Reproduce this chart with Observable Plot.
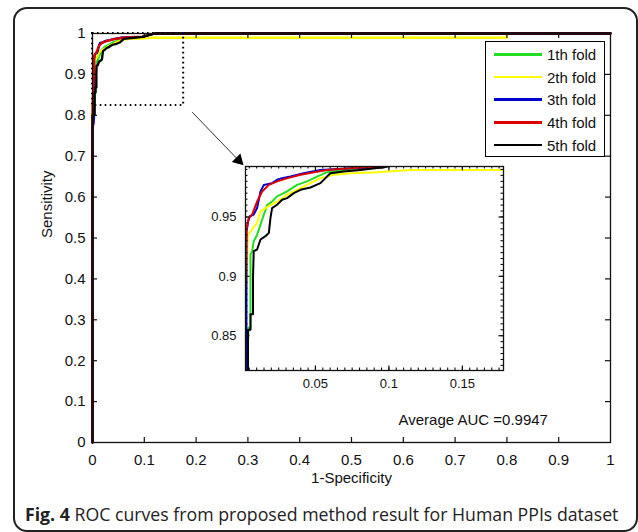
<!DOCTYPE html>
<html>
<head>
<meta charset="utf-8">
<script src="https://cdn.jsdelivr.net/npm/d3@7"></script>
<script src="https://cdn.jsdelivr.net/npm/@observablehq/plot@0.6"></script>
<style>
  html, body { margin: 0; padding: 0; background: white; }
  #wrap { position: relative; width: 638px; height: 532px; overflow: hidden; background: white; font-family: "Liberation Sans", Arial, sans-serif; }
  #frame { position: absolute; left: 13px; top: 7px; width: 625px; height: 525px; box-sizing: border-box; border: 2px solid #222; border-radius: 14px; }
  #main, #inset { position: absolute; left: 0; top: 0; }
  #legend { position: absolute; left: 485px; top: 41px; width: 120px; height: 116px; box-sizing: border-box; border: 1px solid #000; background: white; padding: 1px 0; }
  .row { height: 22.7px; display: flex; align-items: center; font-size: 15px; color: #111; }
  .sw { display: inline-block; width: 48px; height: 2.5px; margin-left: 8px; margin-right: 5px; }
  #caption { position: absolute; left: 25px; top: 503px; white-space: nowrap; font-family: "Open Sans", "Noto Sans", sans-serif; font-size: 16px; color: #222; line-height: 22px; }
  #caption b { font-weight: 700; }
</style>
</head>
<body>
<div id="wrap">
  <div id="frame"></div>
  <div id="main"></div>
  <div id="inset"></div>
  <div id="legend"></div>
  <div id="caption"></div>
</div>
<script>
// ---- data ----
const folds = ["1th fold", "2th fold", "3th fold", "4th fold", "5th fold"];
const foldColors = ["#22dd22", "#ffff00", "#0000cc", "#dd0000", "#000000"];

const fold1X = [0, 0, 0.003, 0.0045, 0.0058, 0.0058, 0.0069, 0.008, 0.0103, 0.0126, 0.0149, 0.0171, 0.0205, 0.0239, 0.0307, 0.0375, 0.0443, 0.0511, 0.0579, 0.0693, 0.0806, 0.0965, 0.12, 1];
const fold1Y = [0, 0.79, 0.81, 0.857, 0.857, 0.9185, 0.921, 0.9296, 0.935, 0.9436, 0.952, 0.960, 0.963, 0.9673, 0.9715, 0.977, 0.980, 0.984, 0.9877, 0.9896, 0.991, 0.9919, 1, 1];

const fold2X = [0, 0, 0.0024, 0.0031, 0.004, 0.0069, 0.0103, 0.0126, 0.016, 0.0194, 0.0239, 0.0307, 0.0398, 0.0466, 0.0534, 0.0625, 0.0738, 0.092, 0.1146, 0.8, 0.8, 1];
const fold2Y = [0, 0.8, 0.89, 0.893, 0.935, 0.9394, 0.945, 0.9547, 0.9575, 0.960, 0.963, 0.9687, 0.9743, 0.9785, 0.9827, 0.9855, 0.9869, 0.9877, 0.9896, 0.9896, 1, 1];

const fold3X = [0, 0, 0.002, 0.003, 0.0031, 0.0042, 0.0053, 0.008, 0.0103, 0.0126, 0.0149, 0.0205, 0.0239, 0.0273, 0.033, 0.042, 0.0534, 0.0738, 0.0965, 0.12, 1];
const fold3Y = [0, 0.77, 0.78, 0.8, 0.938, 0.9464, 0.9506, 0.952, 0.9575, 0.9715, 0.977, 0.9785, 0.9813, 0.9827, 0.984, 0.9868, 0.9896, 0.991, 0.9919, 1, 1];

const fold4X = [0, 0, 0.0024, 0.003, 0.0046, 0.0069, 0.0103, 0.0137, 0.0183, 0.024, 0.031, 0.040, 0.049, 0.058, 0.081, 0.096, 0.12, 1];
const fold4Y = [0, 0.8, 0.9, 0.938, 0.9492, 0.952, 0.963, 0.9715, 0.977, 0.980, 0.9827, 0.9855, 0.9877, 0.9896, 0.9916, 0.9919, 1, 1];

const fold5X = [0, 0, 0.0041, 0.0041, 0.0058, 0.0058, 0.0075, 0.0075, 0.008, 0.0103, 0.0126, 0.016, 0.0183, 0.0194, 0.0205, 0.0239, 0.0273, 0.0307, 0.0353, 0.0398, 0.0466, 0.0534, 0.0568, 0.0602, 0.0693, 0.0806, 0.0965, 0.12, 1];
const fold5Y = [0, 0.8, 0.8, 0.855, 0.855, 0.868, 0.868, 0.899, 0.9212, 0.9226, 0.931, 0.9338, 0.9366, 0.9492, 0.9575, 0.9603, 0.9645, 0.9659, 0.9701, 0.9729, 0.9748, 0.9785, 0.9827, 0.9868, 0.9882, 0.9896, 0.9919, 1, 1];

const xTicks = [0, 0.1, 0.2, 0.3, 0.4, 0.5, 0.6, 0.7, 0.8, 0.9, 1];
const xTickLabels = ["0", "0.1", "0.2", "0.3", "0.4", "0.5", "0.6", "0.7", "0.8", "0.9", "1"];
const yTicks = [0, 0.1, 0.2, 0.3, 0.4, 0.5, 0.6, 0.7, 0.8, 0.9, 1];
const yTickLabels = ["0", "0.1", "0.2", "0.3", "0.4", "0.5", "0.6", "0.7", "0.8", "0.9", "1"];

const insetXDomain = [0.0024, 0.178];
const insetYDomain = [0.8207, 0.9925];
const insetXTicks = [0.05, 0.1, 0.15];
const insetXTickLabels = ["0.05", "0.1", "0.15"];
const insetYTicks = [0.85, 0.9, 0.95];
const insetYTickLabels = ["0.85", "0.9", "0.95"];
const insetMinorStep = 0.005;

const zoomBox = [{x1: 0, x2: 0.176, y1: 0.824, y2: 1}];
const arrowLine = [{x1: 0.193, y1: 0.807, x2: 0.282, y2: 0.69}];
const arrowHead = [{x: 0.282, y: 0.69}];

const xLabel = "1-Specificity";
const yLabel = "Sensitivity";
const aucText = "Average AUC =0.9947";
const aucPos = [{x: 0.735, y: 0.055}];
const captionBold = "Fig. 4";
const captionText = " ROC curves from proposed method result for Human PPIs dataset";

// ---- build ----
const foldXs = [fold1X, fold2X, fold3X, fold4X, fold5X];
const foldYs = [fold1Y, fold2Y, fold3Y, fold4Y, fold5Y];
const rows = folds.flatMap((f, i) => foldXs[i].map((x, j) => ({fold: f, x, y: foldYs[i][j]})));

// inward-pointing ticks on all four sides (MATLAB style), length given in pixels
function edgeTicks(xs, ys, xDom, yDom, pw, ph, len, sw) {
  const dy = len * (yDom[1] - yDom[0]) / ph;
  const dx = len * (xDom[1] - xDom[0]) / pw;
  const s = {stroke: "#111", strokeWidth: sw};
  return [
    Plot.ruleX(xs, {x: d => d, y1: yDom[0], y2: yDom[0] + dy, ...s}),
    Plot.ruleX(xs, {x: d => d, y1: yDom[1] - dy, y2: yDom[1], ...s}),
    Plot.ruleY(ys, {y: d => d, x1: xDom[0], x2: xDom[0] + dx, ...s}),
    Plot.ruleY(ys, {y: d => d, x1: xDom[1] - dx, x2: xDom[1], ...s})
  ];
}
const fmt = (ticks, labels) => d => labels[ticks.indexOf(d)] ?? "";

const W = 638, H = 500;
const mainM = {left: 92, right: 28, top: 33, bottom: 58};
const mainPW = W - mainM.left - mainM.right, mainPH = H - mainM.top - mainM.bottom;
const main = Plot.plot({
  width: W, height: H,
  marginLeft: mainM.left, marginRight: mainM.right, marginTop: mainM.top, marginBottom: mainM.bottom,
  style: {background: "transparent", fontFamily: "'Liberation Sans', Arial, sans-serif", fontSize: "15px", color: "#111", overflow: "visible"},
  x: {domain: [0, 1]},
  y: {domain: [0, 1]},
  color: {domain: folds, range: foldColors},
  marks: [
    Plot.line(rows, {x: "x", y: "y", z: "fold", stroke: "fold", strokeWidth: 2.3}),
    Plot.frame({stroke: "#111", strokeWidth: 1.3}),
    ...edgeTicks(xTicks.slice(1, -1), yTicks.slice(1, -1), [0, 1], [0, 1], mainPW, mainPH, 5, 1.2),
    Plot.axisX({ticks: xTicks, tickSize: 0, tickPadding: 12, tickFormat: fmt(xTicks, xTickLabels), fontSize: 15, label: null}),
    Plot.axisY({ticks: yTicks, tickSize: 0, tickPadding: 7, tickFormat: fmt(yTicks, yTickLabels), fontSize: 15, label: null}),
    Plot.text([xLabel], {frameAnchor: "bottom", dy: 36, fontSize: 15, lineAnchor: "middle", text: d => d}),
    Plot.text([yLabel], {frameAnchor: "left", dx: -45, rotate: -90, fontSize: 15, lineAnchor: "middle", text: d => d}),
    Plot.rect(zoomBox, {x1: "x1", x2: "x2", y1: "y1", y2: "y2", fill: "none", stroke: "black", strokeWidth: 2, strokeDasharray: "1.6,3.4"}),
    Plot.arrow(arrowLine, {x1: "x1", y1: "y1", x2: "x2", y2: "y2", headLength: 0, stroke: "#333", strokeWidth: 1}),
    Plot.dot(arrowHead, {x: "x", y: "y", symbol: "triangle", r: 4.5, rotate: 135, fill: "black", stroke: "none"}),
    Plot.text(aucPos, {x: "x", y: "y", text: () => aucText, fontSize: 15, textAnchor: "middle"})
  ]
});
document.getElementById("main").appendChild(main);

const insM = {left: 245, right: 135, top: 166, bottom: 130};
const insPW = W - insM.left - insM.right, insPH = H - insM.top - insM.bottom;
const insetMinorX = d3.range(0.005, insetXDomain[1], insetMinorStep);
const insetMinorY = d3.range(0.825, insetYDomain[1], insetMinorStep);
const inset = Plot.plot({
  width: W, height: H,
  marginLeft: insM.left, marginRight: insM.right, marginTop: insM.top, marginBottom: insM.bottom,
  style: {background: "transparent", fontFamily: "'Liberation Sans', Arial, sans-serif", fontSize: "13px", color: "#111", overflow: "visible"},
  x: {domain: insetXDomain},
  y: {domain: insetYDomain},
  color: {domain: folds, range: foldColors},
  marks: [
    Plot.frame({fill: "white", stroke: "none"}),
    Plot.line(rows, {x: "x", y: "y", z: "fold", stroke: "fold", strokeWidth: 2, clip: true}),
    Plot.frame({stroke: "#111", strokeWidth: 1.3}),
    ...edgeTicks(insetMinorX, insetMinorY, insetXDomain, insetYDomain, insPW, insPH, 2.5, 1.1),
    ...edgeTicks(insetXTicks, insetYTicks, insetXDomain, insetYDomain, insPW, insPH, 4.5, 1.2),
    Plot.axisX({ticks: insetXTicks, tickSize: 0, tickPadding: 8, tickFormat: fmt(insetXTicks, insetXTickLabels), fontSize: 13, label: null}),
    Plot.axisY({ticks: insetYTicks, tickSize: 0, tickPadding: 9, tickFormat: fmt(insetYTicks, insetYTickLabels), fontSize: 13, label: null})
  ]
});
document.getElementById("inset").appendChild(inset);

// legend
const legend = document.getElementById("legend");
folds.forEach((f, i) => {
  const row = document.createElement("div");
  row.className = "row";
  const sw = document.createElement("span");
  sw.className = "sw";
  sw.style.background = foldColors[i];
  const t = document.createElement("span");
  t.textContent = f;
  row.appendChild(sw); row.appendChild(t);
  legend.appendChild(row);
});

// caption
const cap = document.getElementById("caption");
const b = document.createElement("b");
b.textContent = captionBold;
cap.appendChild(b);
cap.appendChild(document.createTextNode(captionText));
const targetW = 594;
const w = cap.getBoundingClientRect().width;
if (w > 0) cap.style.fontSize = (16 * targetW / w).toFixed(2) + "px";
</script>
</body>
</html>
